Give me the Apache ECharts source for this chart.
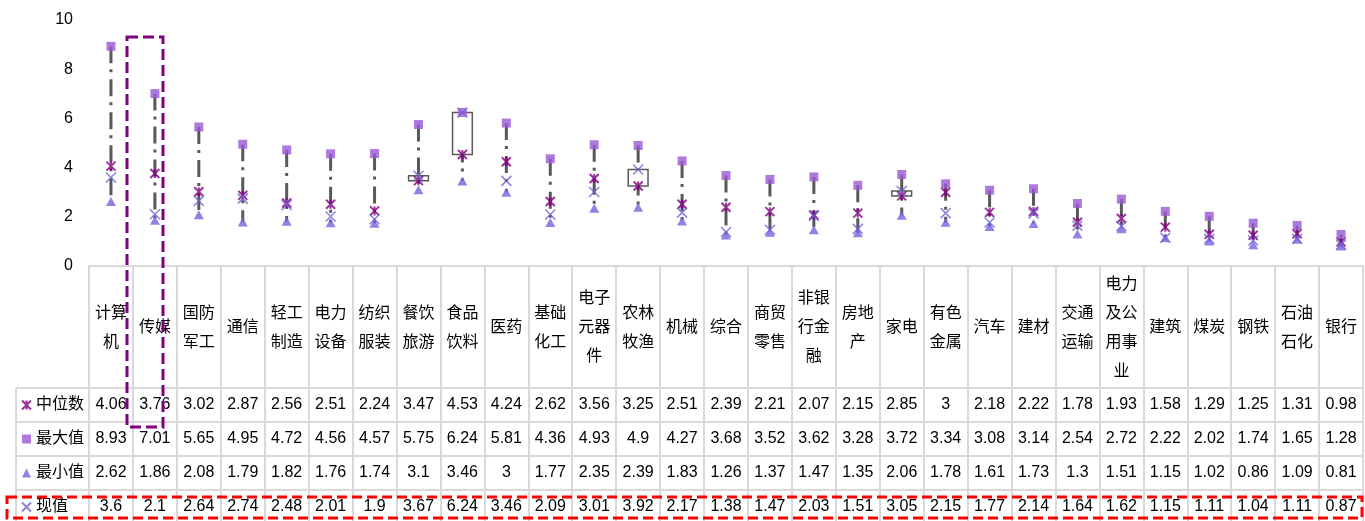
<!DOCTYPE html>
<html><head><meta charset="utf-8">
<script src="https://cdn.jsdelivr.net/npm/echarts@6/dist/echarts.min.js"></script>
<style>html,body{margin:0;padding:0;background:#fff}#c{width:1365px;height:521px}</style>
</head><body><div id="c"></div>
<script>
const categories = ['计算机','传媒','国防军工','通信','轻工制造','电力设备','纺织服装','餐饮旅游','食品饮料','医药','基础化工','电子元器件','农林牧渔','机械','综合','商贸零售','非银行金融','房地产','家电','有色金属','汽车','建材','交通运输','电力及公用事业','建筑','煤炭','钢铁','石油石化','银行'];
const medianVals = [4.06,3.76,3.02,2.87,2.56,2.51,2.24,3.47,4.53,4.24,2.62,3.56,3.25,2.51,2.39,2.21,2.07,2.15,2.85,3,2.18,2.22,1.78,1.93,1.58,1.29,1.25,1.31,0.98];
const maxVals = [8.93,7.01,5.65,4.95,4.72,4.56,4.57,5.75,6.24,5.81,4.36,4.93,4.9,4.27,3.68,3.52,3.62,3.28,3.72,3.34,3.08,3.14,2.54,2.72,2.22,2.02,1.74,1.65,1.28];
const minVals = [2.62,1.86,2.08,1.79,1.82,1.76,1.74,3.1,3.46,3,1.77,2.35,2.39,1.83,1.26,1.37,1.47,1.35,2.06,1.78,1.61,1.73,1.3,1.51,1.15,1.02,0.86,1.09,0.81];
const currentVals = [3.6,2.1,2.64,2.74,2.48,2.01,1.9,3.67,6.24,3.46,2.09,3.01,3.92,2.17,1.38,1.47,2.03,1.51,3.05,2.15,1.77,2.14,1.64,1.62,1.15,1.11,1.04,1.11,0.87];
const seriesNames = ['中位数','最大值','最小值','现值'];
const yMin = 0, yMax = 10, yStep = 2;

const FONT = "'Liberation Sans','Noto Sans CJK SC',sans-serif";
const GRID_L = 89, GRID_R = 2, GRID_T = 20, GRID_B = 255;
const H = 521;
const axisY = H - GRID_B; // 266
const rowTops = [388, 422, 456, 490];
const rowH = 34;
const LINE = '#d9d9d9';

const ohlc = categories.map((c, i) => [i, medianVals[i], currentVals[i], minVals[i], maxVals[i]]);
const rowData = [medianVals, maxVals, minVals, currentVals];

function wrap2(s) {
  const parts = [];
  for (let i = 0; i < s.length; i += 2) parts.push(s.slice(i, i + 2));
  return parts.join('\n');
}

const xAxes = [{
  type: 'category', data: categories, gridIndex: 0, position: 'bottom',
  axisLine: { show: true, lineStyle: { color: LINE, width: 2 } },
  axisTick: { show: true, length: H - axisY, inside: false, interval: 0, lineStyle: { color: LINE, width: 2 } },
  axisLabel: { interval: 0, margin: 62, verticalAlign: 'middle', lineHeight: 29, fontSize: 16, color: '#000', fontFamily: FONT, formatter: v => wrap2(v) },
  splitLine: { show: false }
}];
rowData.forEach((arr, r) => {
  xAxes.push({
    type: 'category', data: categories, gridIndex: 0, position: 'bottom',
    offset: rowTops[r] - axisY,
    axisLine: { show: true, lineStyle: { color: LINE, width: 2 } },
    axisTick: { show: false },
    axisLabel: { interval: 0, margin: rowH / 2, verticalAlign: 'middle', fontSize: 16, color: '#000', fontFamily: FONT,
      formatter: (v, idx) => String(arr[idx]) },
    splitLine: { show: false }
  });
});

const graphics = [];
rowTops.forEach(y => graphics.push({ type: 'line', shape: { x1: 16, y1: y, x2: GRID_L, y2: y }, style: { stroke: LINE, lineWidth: 2 }, z: 1 }));
graphics.push({ type: 'line', shape: { x1: 16, y1: rowTops[0], x2: 16, y2: H }, style: { stroke: LINE, lineWidth: 2 }, z: 1 });
graphics.push({ type: 'rect', shape: { x: 127, y: 37, width: 36, height: 390 }, style: { fill: 'none', stroke: '#800080', lineWidth: 3, lineDash: [11, 5] }, z: 100 });
graphics.push({ type: 'rect', shape: { x: 7, y: 497, width: 1355, height: 21 }, style: { fill: 'none', stroke: '#ff0000', lineWidth: 3, lineDash: [10, 5] }, z: 100 });

const chart = echarts.init(document.getElementById('c'));
chart.setOption({
  animation: false,
  backgroundColor: '#fff',
  textStyle: { fontFamily: FONT },
  grid: { left: GRID_L, right: GRID_R, top: GRID_T, bottom: GRID_B, containLabel: false, outerBoundsMode: 'none' },
  legend: {
    orient: 'vertical', left: 16, top: 392, itemGap: 18, itemWidth: 9, itemHeight: 9,
    data: seriesNames, selectedMode: false,
    textStyle: { fontSize: 16, color: '#000', fontFamily: FONT }
  },
  xAxis: xAxes,
  yAxis: {
    type: 'value', min: yMin, max: yMax, interval: yStep,
    axisLine: { show: false }, axisTick: { show: false }, splitLine: { show: false },
    axisLabel: { margin: 16, fontSize: 16, color: '#000', fontFamily: FONT }
  },
  series: [
    {
      type: 'custom', name: 'hilo', data: ohlc, z: 1,
      encode: { x: 0, y: [1, 2, 3, 4] },
      renderItem: function (params, api) {
        const i = api.value(0);
        const hi = api.coord([i, api.value(4)]);
        const lo = api.coord([i, api.value(3)]);
        const op = api.coord([i, api.value(1)]);
        const cl = api.coord([i, api.value(2)]);
        const children = [{ type: 'line', shape: { x1: hi[0], y1: hi[1], x2: lo[0], y2: lo[1] },
          style: { stroke: '#595959', lineWidth: 3, lineDash: [17, 6, 3, 7], fill: null } }];
        if (api.value(2) > api.value(1)) {
          const w = api.size([1, 0])[0] * 0.45;
          children.push({ type: 'rect', shape: { x: op[0] - w / 2, y: cl[1], width: w, height: op[1] - cl[1] },
            style: { fill: '#fff', stroke: '#595959', lineWidth: 1.5 } });
        }
        return { type: 'group', children };
      }
    },
    { type: 'scatter', name: '中位数', data: medianVals, z: 3,
      symbol: 'path://M0,0L10,10M10,0L0,10M5,0L5,10', symbolSize: 9,
      itemStyle: { color: '#800080', borderColor: '#800080', borderWidth: 2 } },
    { type: 'scatter', name: '最大值', data: maxVals, z: 3,
      symbol: 'rect', symbolSize: 9, itemStyle: { color: '#9b59d6' } },
    { type: 'scatter', name: '最小值', data: minVals, z: 3,
      symbol: 'triangle', symbolSize: [10, 9], itemStyle: { color: '#7763df' } },
    { type: 'scatter', name: '现值', data: currentVals, z: 4,
      symbol: 'path://M0,0L10,10M10,0L0,10', symbolSize: 10,
      itemStyle: { color: '#6b63d6', borderColor: '#6b63d6', borderWidth: 1.5 } }
  ],
  graphic: graphics
});
</script>
</body></html>
